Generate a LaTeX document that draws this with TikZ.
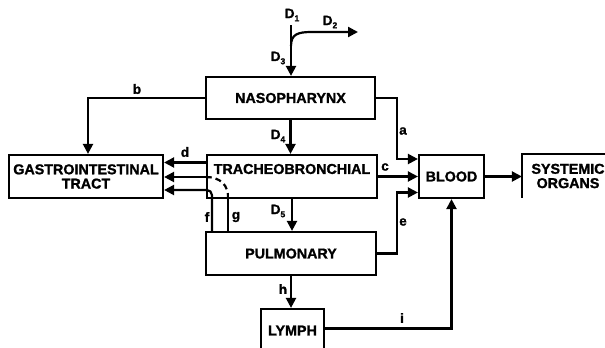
\documentclass[tikz,border=0pt]{standalone}
\usepackage{fontspec}
\setmainfont{Liberation Sans}[BoldFeatures={FakeBold=1.3}]
\usetikzlibrary{arrows.meta, calc}

\newcommand{\Dsub}[1]{D\raisebox{-0.45ex}{\fontsize{8.5}{8.5}\selectfont #1}}

\begin{document}
\begin{tikzpicture}[x=1pt, y=-1pt, >={Triangle[length=10pt,width=10pt]},
    line width=2.2pt,
    box/.style={draw, rectangle, inner sep=0pt, align=center,
      font=\fontsize{14.3}{14.3}\selectfont\bfseries},
    lbl/.style={inner sep=0pt, font=\fontsize{13.5}{13.5}\selectfont\bfseries}]
    \useasboundingbox (0,0) rectangle (605,348);

    % Compartments
    \node[box, minimum width=169pt, minimum height=42pt] (naso)  at (290.5,98)  {NASOPHARYNX};
    \node[box, minimum width=170pt, minimum height=43pt] (trach) at (292,176.5) {};
    \node[box, draw=none] (trachtxt) at ([yshift=7.5pt]trach.center) {TRACHEOBRONCHIAL};
    \node[box, minimum width=154pt, minimum height=43pt] (gi)    at (86,176.5)  {GASTROINTESTINAL\\TRACT};
    \node[box, minimum width=170pt, minimum height=43pt] (pulm)  at (291,253.5) {PULMONARY};
    \node[box, minimum width=63pt,  minimum height=43pt] (lymph) at (292.5,330.5) {LYMPH};
    \node[box, minimum width=65pt,  minimum height=43pt] (blood) at (451.5,176.5) {BLOOD};
    \node[box, draw=none, minimum width=90pt, minimum height=42pt] (sys) at (568,176) {SYSTEMIC\\ORGANS};
    \draw ([xshift=100pt]sys.north west) -- (sys.north west) -- (sys.south west);

    % Deposition
    \coordinate (d1top)  at (291,25);
    \coordinate (split)  at (291,46);
    \coordinate (d2end)  at (358,32);
    \draw[->] (d1top) -- (d1top |- naso.north);
    \draw[->] (split) .. controls (291,34) and (298,32) .. (312,32) -- (d2end);
    \draw[->] (naso.south) -- (naso.south |- trach.north);
    \draw[->] (trach.south) -- (trach.south |- pulm.north);

    % Clearance
    \draw[->] (naso.west) -| ([xshift=2pt]gi.north);
    \draw[->] (naso.east) -- ++(21,0) |- ([yshift=17.5pt]blood.west);
    \draw[->] (trach.east) -- (blood.west);
    \draw[->] (pulm.east) -- ++(20,0) |- ([yshift=-16pt]blood.west);
    \draw[->] ([yshift=14pt]trach.west) -- ([yshift=14pt]gi.east);
    \draw[->] ([yshift=-0.5pt]trach.west) -- ([yshift=-0.5pt]gi.east);
    \draw[->, rounded corners=5pt] ([xshift=7pt]pulm.north west) |- ([yshift=-13.5pt]gi.east);
    \coordinate (gbot) at ([xshift=23pt]pulm.north west);
    \coordinate (gtop) at (gbot |- trach.south);
    \draw (gbot) -- (gtop);
    \draw[dash pattern=on 6pt off 4pt] (gtop) .. controls (229,185) and (220,177) .. ([yshift=-0.5pt]trach.west);
    \draw[->] (pulm.south) -- (pulm.south |- lymph.north);
    \draw[->] ([yshift=2pt]lymph.east) -| (blood.south);
    \draw[->] (blood.east) -- (sys.west |- blood.east);

    % Labels
    \node[lbl] (lD1) at (292,15)  {\Dsub{1}};
    \node[lbl] (lD2) at (330,22)  {\Dsub{2}};
    \node[lbl] (lD3) at (278,58)  {\Dsub{3}};
    \node[lbl] (lD4) at (278,136) {\Dsub{4}};
    \node[lbl] (lD5) at (278,211) {\Dsub{5}};
    \node[lbl] (la)  at (403,131) {a};
    \node[lbl] (lb)  at (137,89)  {b};
    \node[lbl] (lc)  at (385,167) {c};
    \node[lbl] (ld)  at (185,152) {d};
    \node[lbl] (le)  at (403,222) {e};
    \node[lbl] (lf)  at (207,217) {f};
    \node[lbl] (lg)  at (236,217) {g};
    \node[lbl] (lh)  at (283,289) {h};
    \node[lbl] (li)  at (402,318) {i};
\end{tikzpicture}
\end{document}
